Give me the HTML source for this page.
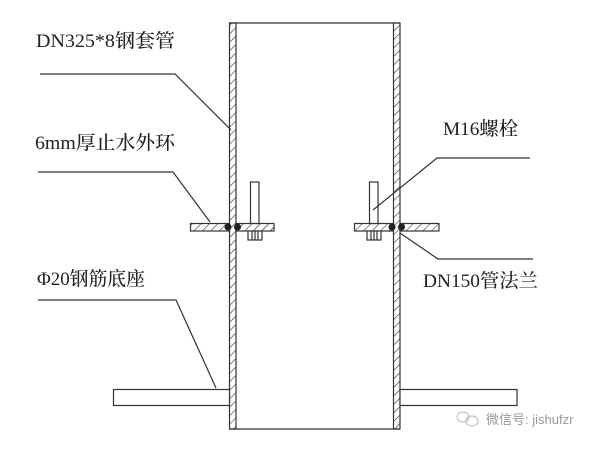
<!DOCTYPE html>
<html><head><meta charset="utf-8"><style>
html,body{margin:0;padding:0;background:#fff;width:600px;height:450px;overflow:hidden}
svg text{font-family:"Liberation Serif","Noto Serif CJK SC","Noto Sans CJK SC",serif;fill:#222}
</style></head><body>
<svg width="600" height="450" viewBox="0 0 600 450" xmlns="http://www.w3.org/2000/svg">
<defs>
<pattern id="h" width="6" height="6" patternUnits="userSpaceOnUse" patternTransform="rotate(45)">
<line x1="0" y1="0" x2="0" y2="6" stroke="#333" stroke-width="1.2"/>
</pattern>
</defs>
<g stroke="#333" stroke-width="1.2" fill="none">
<line x1="229" y1="23" x2="400" y2="23"/>
<line x1="229" y1="429" x2="400" y2="429"/>
<rect x="229.5" y="23" width="6.5" height="406" fill="url(#h)"/>
<rect x="393.5" y="23" width="6.5" height="406" fill="url(#h)"/>
<rect x="113.5" y="389.5" width="116" height="16" fill="#fff"/>
<rect x="400" y="389.5" width="117" height="16" fill="#fff"/>
<rect x="190.5" y="223.5" width="39" height="7.5" fill="url(#h)"/>
<rect x="236" y="223.5" width="38" height="7.5" fill="url(#h)"/>
<rect x="354.5" y="223.5" width="39" height="7.5" fill="url(#h)"/>
<rect x="400" y="223.5" width="39" height="7.5" fill="url(#h)"/>
<rect x="250.5" y="182" width="8.5" height="41.5" fill="#fff"/>
<rect x="248" y="231" width="14" height="9" fill="#fff"/>
<line x1="252" y1="231" x2="252" y2="240"/><line x1="255" y1="231" x2="255" y2="240"/><line x1="258" y1="231" x2="258" y2="240"/>
<rect x="369.5" y="182" width="8.5" height="41.5" fill="#fff"/>
<rect x="367" y="231" width="14" height="9" fill="#fff"/>
<line x1="371" y1="231" x2="371" y2="240"/><line x1="374" y1="231" x2="374" y2="240"/><line x1="377" y1="231" x2="377" y2="240"/>
</g>
<g fill="#222">
<circle cx="228" cy="227" r="3.5"/><circle cx="237.5" cy="227" r="3.5"/>
<circle cx="392" cy="227" r="3.5"/><circle cx="401.5" cy="227" r="3.5"/>
</g>
<g stroke="#333" stroke-width="1.2" fill="none">
<polyline points="40,74 175,74 231,130"/>
<polyline points="38,172 173,172 210,222"/>
<polyline points="38,300 176,300 216,388"/>
<polyline points="530,158 437,158 373,210"/>
<polyline points="400,233 438,259 533,259"/>
</g>
<g font-size="19" style="font-weight:500">
<text x="36" y="47" textLength="139" lengthAdjust="spacingAndGlyphs">DN325*8钢套管</text>
<text x="35" y="149" textLength="140" lengthAdjust="spacingAndGlyphs">6mm厚止水外环</text>
<text x="37" y="285" textLength="108" lengthAdjust="spacingAndGlyphs">Φ20钢筋底座</text>
<text x="443" y="135" textLength="75" lengthAdjust="spacingAndGlyphs">M16螺栓</text>
<text x="423" y="287" textLength="115" lengthAdjust="spacingAndGlyphs">DN150管法兰</text>
</g>
<text x="486" y="424" font-size="13" style="fill:#999;font-family:'Liberation Sans','Noto Sans CJK SC',sans-serif">微信号: jishufzr</text>
<g stroke="#bbb" fill="none" stroke-width="1"><ellipse cx="463" cy="417" rx="6" ry="5"/><ellipse cx="472" cy="421" rx="6" ry="5"/></g>
</svg>
</body></html>
